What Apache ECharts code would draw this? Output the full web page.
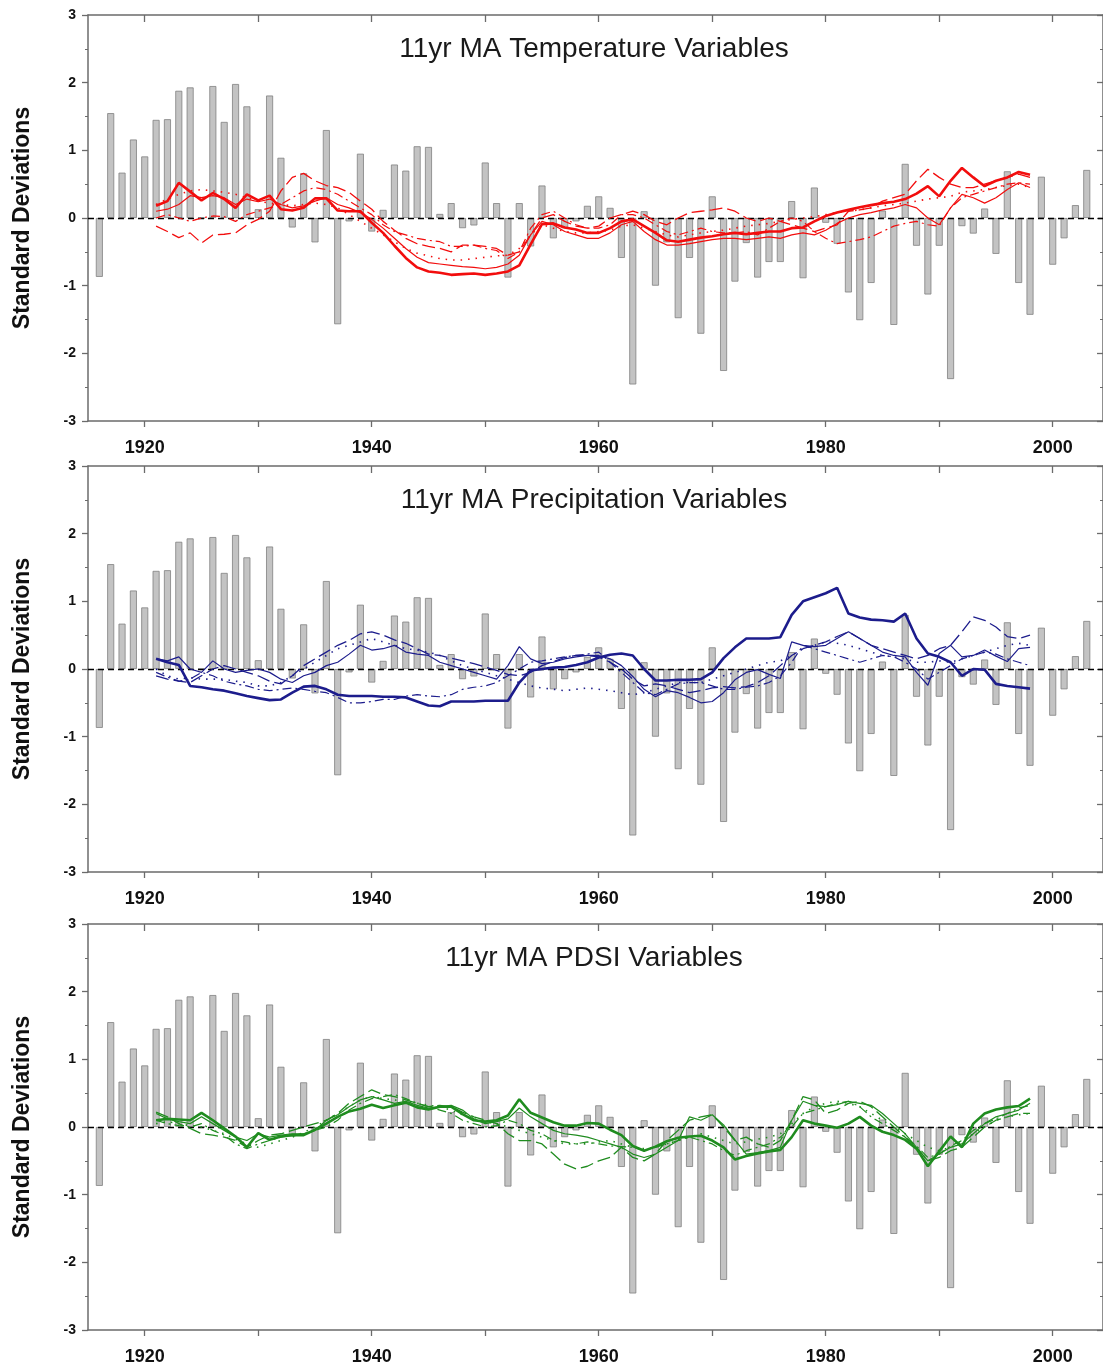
<!DOCTYPE html>
<html><head><meta charset="utf-8">
<script src="https://cdn.jsdelivr.net/npm/echarts@6/dist/echarts.min.js"></script>
<style>html,body{margin:0;padding:0;background:#fff}#c{width:1103px;height:1372px}</style>
</head><body><div id="c"></div>
<script>
// ---- data ----
const barStart = 1916;
const barValues = [
 -0.87, 1.55, 0.67, 1.16, 0.91,
 1.45, 1.46, 1.88, 1.93, 0.00, 1.95, 1.42, 1.98, 1.65, 0.13,
 1.81, 0.89, -0.14, 0.66, -0.36, 1.30, -1.57, -0.05, 0.95, -0.20,
 0.12, 0.79, 0.70, 1.06, 1.05, 0.06, 0.22, -0.15, -0.11, 0.82,
 0.22, -0.88, 0.22, -0.42, 0.48, -0.30, -0.15, -0.05, 0.18, 0.32,
 0.15, -0.59, -2.46, 0.10, -1.00, -0.36, -1.48, -0.59, -1.71, 0.32,
 -2.26, -0.94, -0.37, -0.88, -0.65, -0.65, 0.25, -0.89, 0.45, -0.07,
 -0.38, -1.10, -1.51, -0.96, 0.11, -1.58, 0.80, -0.41, -1.13, -0.41,
 -2.38, -0.12, -0.23, 0.14, -0.53, 0.69, -0.96, -1.43, 0.61, -0.69,
 -0.30, 0.19, 0.71
];
const lineStart = 1921;
// Temperature panel
const tempThick = [
 0.18,0.25,0.52,0.39,0.26,0.37,0.28,0.15,0.35,0.26,
 0.33,0.13,0.11,0.15,0.29,0.29,0.11,0.10,0.10,-0.07,
 -0.22,-0.41,-0.59,-0.73,-0.79,-0.81,-0.84,-0.83,-0.82,-0.84,
 -0.82,-0.79,-0.70,-0.39,-0.09,-0.08,-0.14,-0.17,-0.22,-0.22,
 -0.15,-0.05,-0.02,-0.12,-0.22,-0.33,-0.35,-0.32,-0.29,-0.27,
 -0.24,-0.22,-0.24,-0.22,-0.20,-0.20,-0.15,-0.14,-0.05,0.03,
 0.08,0.12,0.16,0.19,0.22,0.24,0.28,0.36,0.47,0.32,
 0.55,0.74,0.60,0.47,0.55,0.60,0.68,0.64];
const tempThin = [
 0.10,0.13,0.20,0.33,0.30,0.33,0.30,0.20,0.28,0.24,
 0.28,0.20,0.15,0.18,0.25,0.30,0.20,0.15,0.08,-0.02,
 -0.15,-0.30,-0.45,-0.58,-0.66,-0.68,-0.70,-0.72,-0.73,-0.75,
 -0.73,-0.68,-0.55,-0.25,-0.05,-0.10,-0.20,-0.25,-0.30,-0.30,
 -0.22,-0.10,-0.05,-0.20,-0.32,-0.40,-0.40,-0.38,-0.35,-0.32,
 -0.30,-0.30,-0.32,-0.30,-0.28,-0.30,-0.25,-0.22,-0.25,-0.18,
 -0.08,0.00,0.05,0.08,0.12,0.15,0.20,0.15,0.00,-0.10,
 0.15,0.35,0.30,0.22,0.30,0.42,0.52,0.45];
const tempDash = [
 -0.12,-0.20,-0.29,-0.22,-0.37,-0.25,-0.24,-0.22,-0.10,-0.02,
 0.10,0.40,0.60,0.66,0.55,0.48,0.45,0.38,0.25,0.13,
 -0.05,-0.18,-0.30,-0.38,-0.42,-0.45,-0.50,-0.40,-0.40,-0.42,
 -0.45,-0.55,-0.50,-0.25,0.00,0.05,-0.05,-0.12,-0.15,-0.12,
 0.00,0.05,0.10,0.05,-0.05,-0.10,0.00,0.08,0.10,0.12,
 0.15,0.10,0.00,-0.05,0.00,-0.05,-0.10,-0.15,-0.20,-0.15,
 -0.10,0.10,0.12,0.15,0.25,0.30,0.35,0.55,0.72,0.60,
 0.50,0.45,0.45,0.50,0.55,0.60,0.65,0.60];
const tempDashDot = [
 0.00,0.05,0.00,-0.05,0.00,0.03,0.02,-0.05,0.05,0.10,
 0.15,0.20,0.30,0.40,0.45,0.42,0.35,0.25,0.15,0.05,
 -0.10,-0.20,-0.25,-0.30,-0.33,-0.35,-0.42,-0.42,-0.40,-0.45,
 -0.48,-0.60,-0.50,-0.15,0.05,0.10,0.00,-0.10,-0.15,-0.15,
 -0.10,0.05,0.05,0.00,-0.10,-0.20,-0.25,-0.20,-0.15,-0.20,
 -0.22,-0.22,-0.20,-0.25,-0.15,-0.05,0.00,-0.05,-0.20,-0.30,
 -0.38,-0.35,-0.32,-0.28,-0.20,-0.12,-0.08,-0.05,-0.10,-0.12,
 0.15,0.30,0.35,0.40,0.45,0.50,0.52,0.50];
const tempDot = [
 0.20,0.28,0.35,0.40,0.42,0.40,0.38,0.35,0.30,0.25,
 0.22,0.20,0.18,0.20,0.22,0.20,0.15,0.05,-0.05,-0.15,
 -0.25,-0.35,-0.45,-0.52,-0.56,-0.60,-0.62,-0.62,-0.60,-0.58,
 -0.56,-0.55,-0.45,-0.25,-0.10,-0.15,-0.20,-0.22,-0.22,-0.20,
 -0.18,-0.12,-0.10,-0.15,-0.20,-0.25,-0.28,-0.25,-0.22,-0.20,
 -0.18,-0.15,-0.12,-0.10,-0.08,-0.05,-0.02,0.00,0.02,0.05,
 0.08,0.10,0.12,0.15,0.18,0.20,0.22,0.25,0.28,0.30,
 0.32,0.38,0.40,0.42,0.45,0.48,0.50,0.45];
// Precipitation panel
const precThick = [
 0.15,0.10,0.06,-0.25,-0.27,-0.30,-0.32,-0.36,-0.40,-0.43,
 -0.46,-0.45,-0.35,-0.26,-0.25,-0.30,-0.38,-0.40,-0.40,-0.40,
 -0.41,-0.41,-0.42,-0.48,-0.54,-0.55,-0.48,-0.48,-0.48,-0.47,
 -0.47,-0.47,-0.20,-0.02,0.00,0.02,0.03,0.06,0.10,0.17,
 0.21,0.23,0.20,0.00,-0.17,-0.17,-0.16,-0.16,-0.15,-0.05,
 0.16,0.32,0.45,0.45,0.45,0.47,0.80,1.00,1.06,1.12,
 1.20,0.82,0.76,0.73,0.72,0.70,0.82,0.45,0.23,0.18,
 0.10,-0.10,0.00,-0.01,-0.22,-0.25,-0.27,-0.29];
const precThin = [
 0.15,0.12,0.18,0.00,-0.05,0.12,0.00,-0.05,-0.02,0.00,
 -0.05,-0.15,-0.20,-0.10,-0.05,0.05,0.10,0.22,0.35,0.28,
 0.30,0.35,0.25,0.22,0.20,0.10,0.05,0.00,-0.05,-0.10,
 -0.15,0.05,0.33,0.15,0.08,0.10,0.15,0.18,0.20,0.20,
 0.15,0.05,-0.11,-0.30,-0.41,-0.32,-0.35,-0.42,-0.50,-0.48,
 -0.35,-0.16,-0.05,-0.01,-0.08,-0.14,0.40,0.35,0.33,0.35,
 0.45,0.55,0.45,0.35,0.25,0.20,0.18,-0.05,-0.24,0.23,
 0.35,0.18,0.20,0.28,0.19,0.11,0.30,0.32];
const precDash = [
 -0.10,-0.15,-0.18,-0.20,-0.10,0.00,0.05,0.00,-0.05,-0.10,
 -0.18,-0.22,-0.10,0.05,0.15,0.25,0.35,0.42,0.52,0.55,
 0.50,0.43,0.38,0.30,0.22,0.20,0.16,0.12,0.08,0.03,
 -0.02,-0.08,-0.10,-0.05,0.05,0.11,0.17,0.20,0.20,0.18,
 0.10,0.00,-0.15,-0.25,-0.22,-0.25,-0.30,-0.35,-0.32,-0.28,
 -0.26,-0.28,-0.26,-0.20,-0.10,0.05,0.20,0.30,0.35,0.40,
 0.48,0.55,0.45,0.35,0.30,0.25,0.20,0.15,0.20,0.30,
 0.35,0.55,0.77,0.72,0.62,0.48,0.45,0.50];
const precDashDot = [
 -0.05,-0.12,-0.18,-0.15,-0.05,-0.10,-0.18,-0.22,-0.25,-0.30,
 -0.32,-0.30,-0.28,-0.30,-0.33,-0.35,-0.42,-0.50,-0.50,-0.48,
 -0.45,-0.45,-0.40,-0.38,-0.40,-0.41,-0.38,-0.30,-0.27,-0.25,
 -0.20,-0.10,0.00,0.10,0.12,0.15,0.18,0.20,0.22,0.25,
 0.10,-0.05,-0.20,-0.35,-0.38,-0.30,-0.22,-0.20,-0.20,-0.25,
 -0.30,-0.30,-0.27,-0.25,-0.20,-0.10,0.10,0.35,0.30,0.25,
 0.20,0.15,0.10,0.15,0.20,0.18,0.10,0.00,-0.15,-0.05,
 0.05,0.15,0.20,0.25,0.22,0.15,0.10,0.05];
const precDot = [
 0.00,-0.10,-0.15,-0.13,-0.15,-0.15,-0.15,-0.18,-0.20,-0.25,
 -0.25,-0.20,-0.10,0.00,0.10,0.20,0.30,0.35,0.40,0.45,
 0.40,0.35,0.30,0.28,0.25,0.20,0.12,0.05,0.00,-0.05,
 -0.10,-0.15,-0.20,-0.25,-0.28,-0.30,-0.32,-0.30,-0.28,-0.30,
 -0.32,-0.35,-0.38,-0.35,-0.30,-0.25,-0.20,-0.20,-0.20,-0.15,
 -0.10,-0.05,0.00,0.05,0.10,0.12,0.20,0.30,0.35,0.40,
 0.38,0.35,0.30,0.25,0.20,0.18,0.15,0.10,0.10,0.12,
 0.10,0.15,0.20,0.25,0.30,0.35,0.38,0.35];
// PDSI panel
const pdsiThick = [
 0.10,0.12,0.11,0.10,0.21,0.10,-0.02,-0.14,-0.30,-0.09,
 -0.19,-0.14,-0.12,-0.12,-0.04,0.05,0.15,0.23,0.27,0.33,
 0.28,0.32,0.36,0.29,0.26,0.30,0.30,0.19,0.10,0.08,
 0.10,0.17,0.41,0.21,0.14,0.07,0.02,0.02,0.06,0.05,
 -0.04,-0.12,-0.28,-0.35,-0.29,-0.21,-0.16,-0.14,-0.13,-0.20,
 -0.30,-0.48,-0.43,-0.39,-0.36,-0.34,-0.15,0.10,0.05,0.02,
 -0.01,0.05,0.15,0.02,-0.07,-0.12,-0.19,-0.32,-0.58,-0.36,
 -0.14,-0.30,0.05,0.20,0.26,0.29,0.31,0.42];
const pdsiThin = [
 0.20,0.12,0.08,0.05,0.15,0.05,-0.05,-0.15,-0.20,-0.10,
 -0.15,-0.12,-0.10,-0.10,-0.05,0.10,0.18,0.30,0.40,0.45,
 0.40,0.35,0.38,0.32,0.28,0.30,0.32,0.25,0.12,0.05,
 0.08,0.12,0.28,0.15,0.05,-0.05,-0.10,-0.12,-0.15,-0.20,
 -0.25,-0.30,-0.40,-0.45,-0.40,-0.30,-0.20,0.15,0.10,0.18,
 0.03,-0.19,-0.40,-0.38,-0.35,-0.30,0.10,0.38,0.32,0.30,
 0.33,0.38,0.35,0.32,0.20,0.05,-0.10,-0.30,-0.50,-0.40,
 -0.30,-0.25,-0.10,0.05,0.15,0.20,0.25,0.35];
const pdsiDash = [
 0.22,0.15,0.05,-0.02,-0.10,-0.12,-0.15,-0.20,-0.30,-0.20,
 -0.12,-0.10,-0.05,0.00,0.05,0.10,0.20,0.35,0.45,0.55,
 0.48,0.45,0.40,0.35,0.30,0.32,0.30,0.22,0.15,0.10,
 0.05,-0.10,-0.20,-0.20,-0.25,-0.40,-0.55,-0.62,-0.58,-0.50,
 -0.45,-0.30,-0.45,-0.50,-0.40,-0.20,-0.05,0.10,0.15,0.18,
 0.00,-0.20,-0.15,-0.25,-0.30,-0.20,0.10,0.45,0.40,0.20,
 0.25,0.35,0.38,0.30,0.15,0.00,-0.15,-0.30,-0.50,-0.45,
 -0.35,-0.30,-0.15,0.00,0.10,0.15,0.20,0.20];
const pdsiDashDot = [
 0.10,0.05,0.02,0.00,0.05,-0.05,-0.12,-0.25,-0.32,-0.25,
 -0.20,-0.15,-0.12,-0.10,-0.05,0.00,0.10,0.25,0.35,0.42,
 0.45,0.48,0.42,0.35,0.30,0.25,0.20,0.10,0.05,0.00,
 0.02,0.10,0.05,-0.05,-0.10,-0.20,-0.22,-0.25,-0.22,-0.25,
 -0.28,-0.29,-0.30,-0.35,-0.30,-0.25,-0.20,-0.15,-0.20,-0.25,
 -0.35,-0.42,-0.35,-0.30,-0.25,-0.15,0.00,0.20,0.25,0.30,
 0.35,0.38,0.30,0.15,0.05,-0.05,-0.15,-0.28,-0.45,-0.40,
 -0.28,-0.20,-0.05,0.05,0.12,0.20,0.28,0.32];
const pdsiDot = [
 0.05,0.08,0.05,0.02,0.00,-0.05,-0.10,-0.18,-0.25,-0.30,
 -0.25,-0.20,-0.15,-0.08,0.00,0.10,0.20,0.30,0.40,0.45,
 0.42,0.40,0.38,0.35,0.32,0.30,0.25,0.18,0.12,0.08,
 0.05,0.00,-0.05,-0.10,-0.15,-0.20,-0.25,-0.25,-0.25,-0.22,
 -0.20,-0.25,-0.30,-0.32,-0.30,-0.25,-0.20,-0.15,-0.10,-0.15,
 -0.20,-0.25,-0.22,-0.18,-0.15,-0.10,0.05,0.20,0.30,0.35,
 0.38,0.35,0.30,0.20,0.10,0.00,-0.10,-0.20,-0.30,-0.35,
 -0.30,-0.22,-0.10,0.00,0.10,0.15,0.18,0.20];

const panelTitles = ['11yr MA Temperature Variables','11yr MA Precipitation Variables','11yr MA PDSI Variables'];
const yAxisName = 'Standard Deviations';
const xLabelValues = [1920,1940,1960,1980,2000];
const xTickValues = [1920,1930,1940,1950,1960,1970,1980,1990,2000];
const xMin = 1915, xMax = 2004.43;
const yMin = -3, yMax = 3;

const panels = [
  {title: panelTitles[0], color:'#f20d0d', lines:[tempThick,tempThin,tempDash,tempDashDot,tempDot]},
  {title: panelTitles[1], color:'#1c1c8c', lines:[precThick,precThin,precDash,precDashDot,precDot]},
  {title: panelTitles[2], color:'#1f8c1f', lines:[pdsiThick,pdsiThin,pdsiDash,pdsiDashDot,pdsiDot]}
];
const lineStyles = [
  {width:2.6, type:'solid'},
  {width:1.2, type:'solid'},
  {width:1.3, type:[13,5]},
  {width:1.2, type:[9,4,2,4]},
  {width:1.6, type:[1.5,6]}
];

// ---- layout ----
const gridTops = [15, 466, 924];
const gridH = 406;
const FONT = '"Liberation Sans", Arial, sans-serif';
const axisCol = '#6b6b6b';

const grid=[], xAxis=[], yAxis=[], series=[], title=[];
panels.forEach((p,i)=>{
  grid.push({left:88, right:0, top:gridTops[i], height:gridH, containLabel:false});
  title.push({text:p.title, left:589, top:gridTops[i]+15, textAlign:'center',
    textStyle:{fontFamily:FONT, fontSize:28, fontWeight:'normal', color:'#1a1a1a'}});
  xAxis.push({type:'value', gridIndex:i, min:xMin, max:xMax, position:'bottom',
    axisLine:{show:true, onZero:false, lineStyle:{color:axisCol, width:1.5}},
    axisTick:{show:true, inside:false, length:6, customValues:xTickValues, lineStyle:{color:axisCol, width:1.3}},
    axisLabel:{show:true, customValues:xLabelValues, margin:18, formatter:(v)=>String(v),
      fontFamily:FONT, fontSize:18, fontWeight:'bold', color:'#111'},
    splitLine:{show:false}});
  xAxis.push({type:'value', gridIndex:i, min:xMin, max:xMax, position:'top',
    axisLine:{show:true, onZero:false, lineStyle:{color:axisCol, width:1.5}},
    axisTick:{show:true, inside:true, length:7, customValues:xTickValues, lineStyle:{color:axisCol, width:1.3}},
    axisLabel:{show:false}, splitLine:{show:false}});
  yAxis.push({type:'value', gridIndex:i, min:yMin, max:yMax, interval:1, position:'left',
    name:yAxisName, nameLocation:'middle', nameGap:54, nameRotate:90,
    nameTextStyle:{fontFamily:FONT, fontSize:23, fontWeight:'bold', color:'#111'},
    axisLine:{show:true, onZero:false, lineStyle:{color:axisCol, width:1.5}},
    axisTick:{show:true, inside:false, length:6, lineStyle:{color:axisCol, width:1.3}},
    minorTick:{show:true, splitNumber:2, length:3, lineStyle:{color:axisCol, width:1}},
    axisLabel:{margin:12, fontFamily:FONT, fontSize:14, fontWeight:'bold', color:'#111'},
    splitLine:{show:false}});
  yAxis.push({type:'value', gridIndex:i, min:yMin, max:yMax, interval:1, position:'right',
    axisLine:{show:true, onZero:false, lineStyle:{color:axisCol, width:1.5}},
    axisTick:{show:true, inside:true, length:6, lineStyle:{color:axisCol, width:1.3}},
    minorTick:{show:true, splitNumber:2, length:3, lineStyle:{color:axisCol, width:1}},
    axisLabel:{show:false}, splitLine:{show:false}});
  series.push({type:'bar', xAxisIndex:2*i, yAxisIndex:2*i, barWidth:7,
    data: barValues.map((v,k)=>[barStart+k, v]),
    itemStyle:{color:'#c3c3c3', borderColor:'#808080', borderWidth:0.8},
    silent:true, z:2,
    markLine:{silent:true, symbol:['none','none'], label:{show:false},
      lineStyle:{color:'#000', type:[6,4], width:1.3}, data:[{yAxis:0}], z:3}});
  p.lines.forEach((arr,j)=>{
    series.push({type:'line', xAxisIndex:2*i, yAxisIndex:2*i, showSymbol:false, symbol:'none',
      data: arr.map((v,k)=>[lineStart+k, v]), z:10-j*0.1, silent:true,
      lineStyle:{color:p.color, width:lineStyles[j].width, type:lineStyles[j].type}});
  });
});

const chart = echarts.init(document.getElementById('c'), null, {renderer:'canvas'});
chart.setOption({animation:false, backgroundColor:'#fff', title, grid, xAxis, yAxis, series});
</script>
</body></html>
